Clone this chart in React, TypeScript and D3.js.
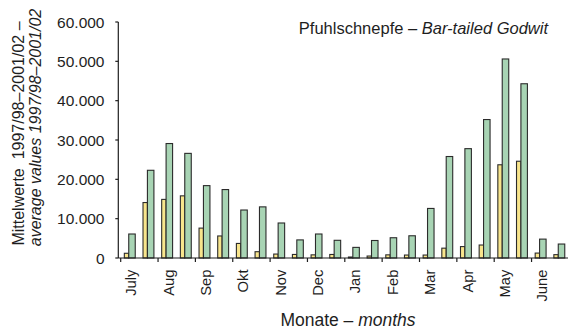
import React from "react";
import * as d3 from "d3";

// Month labels along the x axis (each month split into two half-month periods)
const months = ["July", "Aug", "Sep", "Okt", "Nov", "Dec", "Jan", "Feb", "Mar", "Apr", "May", "June"];

// Half-month averages, yellow series
const yellowValues = [
  1200, 14100, 14900, 15800, 7600, 5600, 3700, 1600, 1000, 900, 800, 900,
  250, 500, 800, 750, 750, 2500, 2900, 3300, 23700, 24600, 1250, 850,
];

// Half-month averages, green series
const greenValues = [
  6100, 22300, 29100, 26600, 18400, 17400, 12200, 13000, 8900, 4600, 6100, 4500,
  2700, 4450, 5150, 5650, 12600, 25800, 27800, 35200, 50600, 44300, 4800, 3550,
];

const yTicks = [0, 10000, 20000, 30000, 40000, 50000, 60000];

const W = 568;
const H = 330;
const FONT = "'Liberation Sans', Arial, Helvetica, sans-serif";
const INK = "#1e1e1e";

const fmt = (v: number) => (v === 0 ? "0" : d3.format(",.3f")(v / 1000).replace(/,/g, ""));

export default function App() {
  const x0 = 120.7;
  const x1 = 568.9;
  const axisX = 118.3;
  const baseY = 258;

  const y = d3.scaleLinear().domain([0, 60000]).range([baseY, 22]);
  const monthScale = d3.scaleBand<string>().domain(months).range([x0, x1]).padding(0);
  const halfIdx = d3.range(yellowValues.length).map(String);
  const half = d3.scaleBand<string>().domain(halfIdx).range([x0, x1]).padding(0);

  const yellowW = 4.4;
  const greenW = 6.5;
  const gap = -1.3; // offset of the yellow/green seam from the band centre

  const boundaries = d3.range(months.length + 1).map((k) => x0 + k * monthScale.step());

  return (
    <svg
      width={W}
      height={H}
      style={{ position: "absolute", left: 0, top: 0, display: "block", background: "#fff" }}
      fontFamily={FONT}
    >
      {/* title */}
      <text x={548} y={34} textAnchor="end" fontSize={16.5} fill={INK}>
        Pfuhlschnepfe – <tspan fontStyle="italic">Bar-tailed Godwit</tspan>
      </text>

      {/* bars */}
      {yellowValues.map((v, i) => {
        const c = (half(String(i)) as number) + half.bandwidth() / 2;
        const g = greenValues[i];
        return (
          <g key={i} stroke="#2b2b2b" strokeWidth={1.1}>
            <rect x={c + gap - yellowW} y={y(v)} width={yellowW} height={baseY - y(v)} fill="#f8e58c" />
            <rect x={c + gap} y={y(g)} width={greenW} height={baseY - y(g)} fill="#a8d4b4" />
          </g>
        );
      })}

      {/* y axis */}
      <line x1={axisX} x2={axisX} y1={22} y2={baseY} stroke={INK} strokeWidth={1.2} />
      {yTicks.map((t) => (
        <g key={t}>
          <line x1={axisX - 3} x2={axisX} y1={y(t)} y2={y(t)} stroke={INK} strokeWidth={1.2} />
          <text x={104.5} y={y(t)} dy="0.36em" textAnchor="end" fontSize={15.5} fill={INK}>
            {fmt(t)}
          </text>
        </g>
      ))}

      {/* x axis */}
      <line x1={axisX} x2={W} y1={baseY} y2={baseY} stroke={INK} strokeWidth={1.2} />
      {boundaries.map((bx, k) => (
        <line key={k} x1={bx} x2={bx} y1={baseY} y2={baseY + 4} stroke={INK} strokeWidth={1.2} />
      ))}
      {months.map((m) => {
        const cx = (monthScale(m) as number) + monthScale.bandwidth() / 2 - 3;
        return (
          <text
            key={m}
            transform={`translate(${cx},269.5) rotate(-90)`}
            textAnchor="end"
            fontSize={14.8}
            fill={INK}
          >
            {m}
          </text>
        );
      })}

      {/* axis titles */}
      <text x={348} y={326} textAnchor="middle" fontSize={17.5} fill={INK}>
        Monate – <tspan fontStyle="italic">months</tspan>
      </text>
      <text transform="translate(23.5,133.5) rotate(-90)" textAnchor="middle" fontSize={16} fill={INK}>
        Mittelwerte{"\u00a0\u00a0"}1997/98–2001/02 –
      </text>
      <text
        transform="translate(41,127.5) rotate(-90)"
        textAnchor="middle"
        fontSize={16}
        fontStyle="italic"
        fill={INK}
      >
        average values 1997/98–2001/02
      </text>
    </svg>
  );
}
